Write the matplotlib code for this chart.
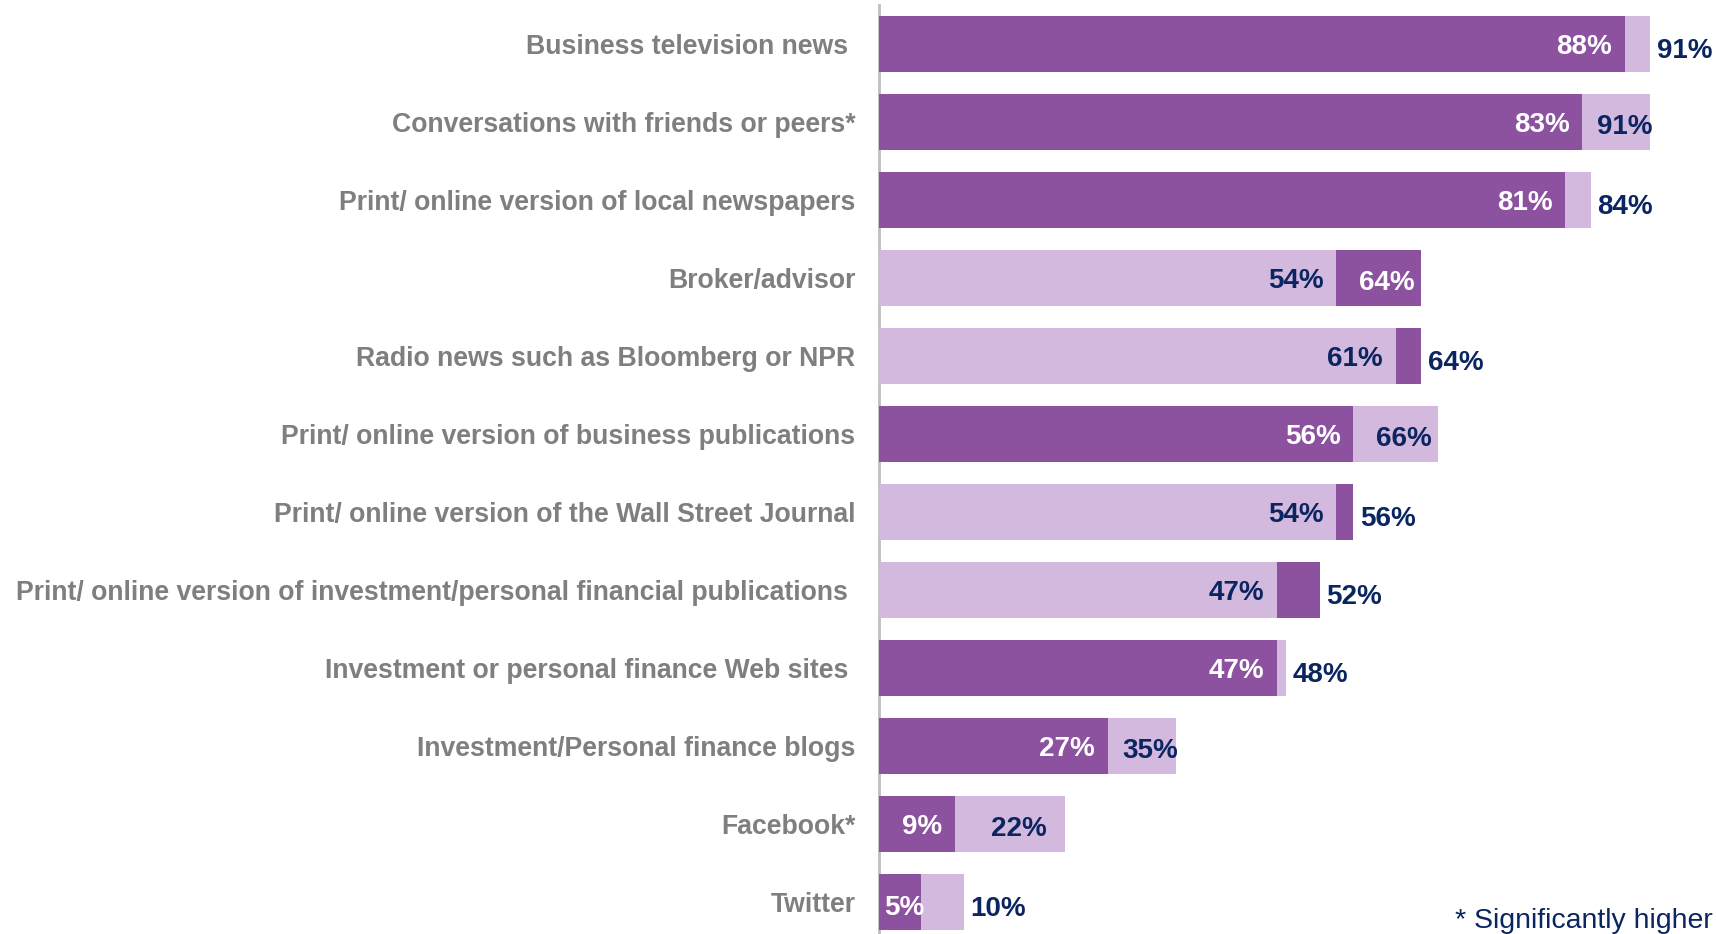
import matplotlib
matplotlib.use("Agg")
import matplotlib.pyplot as plt
import numpy as np

categories = [
    "Business television news ",
    "Conversations with friends or peers*",
    "Print/ online version of local newspapers",
    "Broker/advisor",
    "Radio news such as Bloomberg or NPR",
    "Print/ online version of business publications",
    "Print/ online version of the Wall Street Journal",
    "Print/ online version of investment/personal financial publications ",
    "Investment or personal finance Web sites ",
    "Investment/Personal finance blogs",
    "Facebook*",
    "Twitter",
]
dark_values = [88, 83, 81, 64, 64, 56, 56, 52, 47, 27, 9, 5]
light_values = [91, 91, 84, 54, 61, 66, 54, 47, 48, 35, 22, 10]
footnote = "* Significantly higher"

DARK = "#8C52A0"
LIGHT = "#D3B9DD"
NAVY = "#0B2561"
GREY = "#7F7F7F"

fig = plt.figure(figsize=(17.16, 9.34), dpi=100)
W, H = 1716, 934
ax = fig.add_axes([879 / W, 0, 1 - 879 / W, 1 - 5 / H])

dark = np.array(dark_values)
light = np.array(light_values)
y = np.arange(len(categories))
back = np.maximum(dark, light)
front = np.minimum(dark, light)
dark_behind = dark >= light
back_colors = [DARK if d else LIGHT for d in dark_behind]
front_colors = [LIGHT if d else DARK for d in dark_behind]

bh = 0.73
ax.barh(y, back, height=bh, color=back_colors, zorder=2)
ax.barh(y, front, height=bh, color=front_colors, zorder=3)

ax.set_xlim(0, 98.8)
ax.set_ylim(11.41, -0.5)
ax.set_xticks([])
ax.set_yticks(y)
ax.set_yticklabels(categories, fontsize=19.2, fontweight="bold", color=GREY,
                   family="Liberation Sans")
ax.tick_params(axis="y", length=0, pad=17)
for s in ("top", "right", "bottom"):
    ax.spines[s].set_visible(False)
ax.spines["left"].set_color("#BFBFBF")
ax.spines["left"].set_linewidth(2)

lab_kw = dict(fontsize=20, fontweight="bold", family="Liberation Sans",
              va="center", zorder=5)
dy = 0.04
for i in range(len(y)):
    f, b = front[i], back[i]
    fcol = "white" if not dark_behind[i] else NAVY
    # value of the front bar, inside its end (or from the axis when too short)
    if f >= 8:
        ax.text(f - 1.5, y[i] + dy, f"{f}%", ha="right", color=fcol, **lab_kw)
    else:
        ax.text(0.6, y[i] + dy + 0.04, f"{f}%", ha="left", color=fcol, **lab_kw)
    seg = b - f
    bcol = "white" if dark_behind[i] else NAVY
    if seg >= 7:
        ax.text(f + seg / 2 + 1.0, y[i] + dy + 0.02, f"{b}%", ha="center", color=bcol, **lab_kw)
    else:
        ax.text(b + 0.8, y[i] + dy + 0.05, f"{b}%", ha="left", color=NAVY, **lab_kw)

fig.text(1713 / W, 1 - 928 / H, footnote, fontsize=20.5, color=NAVY,
         family="Liberation Sans", ha="right", va="baseline")

fig.savefig("out.png", dpi=100)
